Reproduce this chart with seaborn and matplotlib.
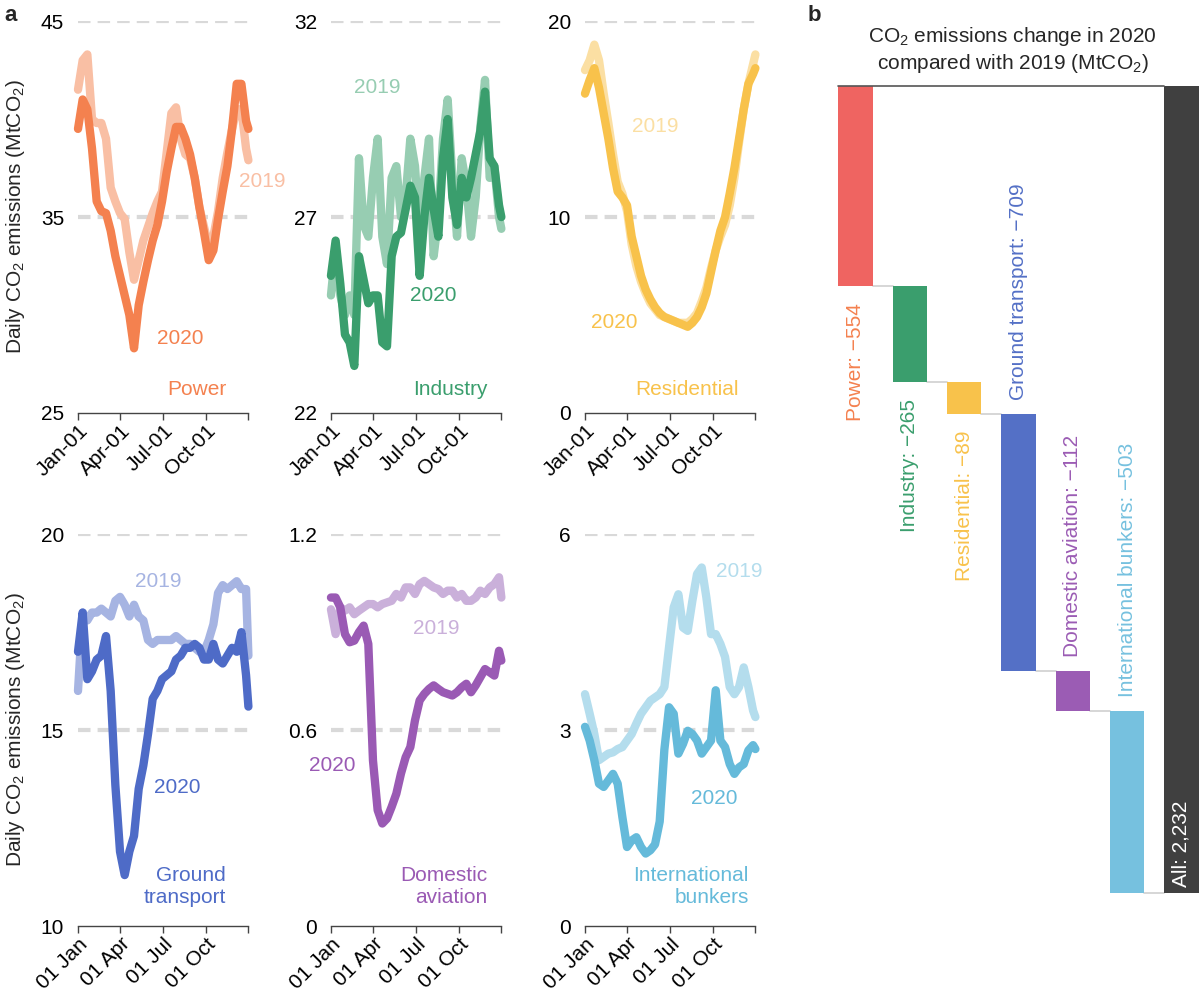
import pandas as pd
import numpy as np
import matplotlib.pyplot as plt
import matplotlib.dates as mdates
import seaborn as sns

DAY_OFFSETS = list(range(0, 361, 10)) + [365]

power_2019 = [41.5, 43.0, 43.3, 40.0, 39.8, 39.8, 39.0, 36.5, 35.8, 35.2, 34.9, 33.2, 31.8, 32.8, 33.8, 34.5, 35.2, 35.8, 36.3,
              38.3, 40.3, 40.6, 39.0, 38.2, 38.0, 37.0, 35.5, 34.5, 33.5, 34.0, 35.3, 37.0, 38.3, 39.5, 40.5, 40.5, 38.5, 37.9]
power_2020 = [39.5, 41.0, 40.5, 38.5, 35.8, 35.3, 35.2, 34.3, 33.0, 32.0, 31.0, 30.0, 28.3, 30.5, 31.7, 32.8, 33.8, 34.6, 35.8,
              37.3, 38.5, 39.6, 39.6, 39.0, 38.2, 37.0, 35.5, 34.2, 32.8, 33.3, 34.9, 36.3, 37.6, 39.5, 41.8, 41.8, 39.9, 39.5]

industry_2019 = [25.0, 26.2, 25.0, 24.5, 25.0, 24.5, 28.5, 26.8, 26.5, 28.0, 29.0, 26.5, 25.8, 28.0, 28.3, 27.0, 27.5, 29.0, 28.3,
                 26.5, 28.0, 29.0, 26.0, 27.0, 29.0, 30.0, 28.0, 26.5, 28.5, 27.8, 26.5, 27.5, 29.3, 30.5, 28.0, 28.3, 27.0, 26.7]
industry_2020 = [25.5, 26.4, 25.3, 24.0, 23.8, 23.2, 26.0, 25.4, 24.8, 25.0, 25.0, 23.8, 23.7, 26.0, 26.5, 26.6, 27.2, 27.8, 27.5,
                 25.5, 27.0, 28.0, 27.2, 26.5, 28.5, 29.5, 27.5, 26.8, 28.0, 27.5, 28.0, 28.6, 29.2, 30.2, 28.5, 28.3, 27.3, 27.0]

residential_2019 = [17.5, 18.0, 18.8, 18.0, 16.3, 14.8, 13.2, 11.8, 11.2, 10.3, 8.6, 7.5, 6.7, 6.1, 5.6, 5.3, 5.0, 4.9, 4.8,
                    4.7, 4.6, 4.6, 4.6, 4.8, 5.1, 5.7, 6.4, 7.4, 8.3, 9.0, 9.6, 10.6, 12.0, 13.8, 15.5, 16.8, 17.8, 18.3]
residential_2020 = [16.3, 17.0, 17.6, 16.6, 15.3, 14.0, 12.5, 11.3, 11.0, 10.6, 9.0, 8.0, 7.0, 6.3, 5.8, 5.4, 5.1, 4.9, 4.8,
                    4.7, 4.6, 4.5, 4.4, 4.6, 4.9, 5.4, 6.1, 7.2, 8.3, 9.3, 10.0, 11.2, 12.5, 14.0, 15.5, 16.8, 17.3, 17.6]

ground_2019 = [16.0, 18.0, 17.8, 18.0, 18.0, 18.1, 18.0, 17.9, 18.3, 18.4, 18.2, 17.9, 18.2, 17.9, 17.8, 17.3, 17.2, 17.3, 17.3,
               17.3, 17.3, 17.4, 17.3, 17.2, 17.2, 17.1, 17.0, 17.0, 17.3, 17.7, 18.5, 18.7, 18.6, 18.7, 18.8, 18.6, 18.6, 16.9]
ground_2020 = [17.0, 18.0, 16.3, 16.5, 16.8, 16.9, 17.4, 16.0, 13.6, 11.9, 11.3, 11.9, 12.3, 13.5, 14.1, 14.9, 15.8, 16.0, 16.3,
               16.4, 16.5, 16.8, 16.9, 17.1, 17.1, 17.2, 17.1, 16.8, 16.8, 17.2, 16.8, 16.7, 16.9, 17.1, 17.0, 17.5, 16.4, 15.6]

domestic_2019 = [0.97, 0.894, 0.976, 0.966, 0.976, 0.955, 0.966, 0.976, 0.986, 0.986, 0.976, 0.986, 0.991, 0.996, 1.017, 1.006,
                 1.037, 1.037, 1.017, 1.047, 1.057, 1.047, 1.037, 1.032, 1.017, 1.027, 1.027, 1.006, 1.017, 0.996, 0.996,
                 1.006, 1.027, 1.017, 1.037, 1.047, 1.068, 1.006]
domestic_2020 = [1.006, 1.006, 0.976, 0.894, 0.869, 0.874, 0.90, 0.92, 0.864, 0.507, 0.355, 0.314, 0.329, 0.365, 0.405, 0.467,
                 0.517, 0.548, 0.630, 0.691, 0.711, 0.726, 0.737, 0.726, 0.716, 0.711, 0.706, 0.716, 0.731, 0.742, 0.716,
                 0.737, 0.762, 0.787, 0.777, 0.767, 0.843, 0.813]

bunkers_2019 = [3.55, 3.25, 2.94, 2.54, 2.59, 2.64, 2.66, 2.71, 2.74, 2.84, 2.94, 3.10, 3.25, 3.35, 3.45, 3.50, 3.55, 3.66, 4.27,
                4.88, 5.08, 4.57, 4.52, 4.98, 5.39, 5.49, 5.03, 4.47, 4.47, 4.32, 4.12, 3.66, 3.55, 3.66, 3.96, 3.66, 3.30, 3.20]
bunkers_2020 = [3.05, 2.84, 2.54, 2.18, 2.13, 2.23, 2.33, 2.18, 1.67, 1.21, 1.31, 1.36, 1.21, 1.11, 1.16, 1.25, 1.60, 2.70, 3.35,
                3.25, 2.64, 2.79, 2.99, 2.94, 2.84, 2.64, 2.74, 2.84, 3.61, 2.84, 2.74, 2.48, 2.33, 2.43, 2.48, 2.69, 2.77, 2.71]

top_xlabels = ['Jan-01', 'Apr-01', 'Jul-01', 'Oct-01', '']
bottom_xlabels = ['01 Jan', '01 Apr', '01 Jul', '01 Oct', '']
tick_dates = ['2020-01-01', '2020-04-01', '2020-07-01', '2020-10-01', '2020-12-31']

# waterfall data (MtCO2)
sectors = ['Power', 'Industry', 'Residential', 'Ground transport', 'Domestic aviation', 'International bunkers']
changes = [-554, -265, -89, -709, -112, -503]
total_label = 'All: 2,232'

sns.set_theme(style='white')
plt.rcParams['font.family'] = ['Liberation Sans', 'DejaVu Sans']
plt.rcParams['mathtext.default'] = 'regular'

CO2 = 'CO$_\\mathregular{2}$'
YLAB = 'Daily ' + CO2 + ' emissions (Mt' + CO2 + ')'
FS = 15

panels = [
    dict(v19=power_2019, v20=power_2020, light='#F9BFA4', dark='#F4814F',
         yticks=[25, 35, 45], ylabels=['25', '35', '45'], xlabels=top_xlabels,
         texts=[('2019', 1.08, 0.59, 'light', 'center'), ('2020', 0.60, 0.19, 'dark', 'center'),
                ('Power', 0.70, 0.06, 'dark', 'center')]),
    dict(v19=industry_2019, v20=industry_2020, light='#97CDB2', dark='#3A9E6D',
         yticks=[22, 27, 32], ylabels=['22', '27', '32'], xlabels=top_xlabels,
         texts=[('2019', 0.27, 0.83, 'light', 'center'), ('2020', 0.60, 0.30, 'dark', 'center'),
                ('Industry', 0.70, 0.06, 'dark', 'center')]),
    dict(v19=residential_2019, v20=residential_2020, light='#FBDFA3', dark='#F8C24B',
         yticks=[0, 10, 20], ylabels=['0', '10', '20'], xlabels=top_xlabels,
         texts=[('2019', 0.41, 0.73, 'light', 'center'), ('2020', 0.17, 0.23, 'dark', 'center'),
                ('Residential', 0.60, 0.06, 'dark', 'center')]),
    dict(v19=ground_2019, v20=ground_2020, light='#A6B4E2', dark='#4E6BC7',
         yticks=[10, 15, 20], ylabels=['10', '15', '20'], xlabels=bottom_xlabels,
         texts=[('2019', 0.47, 0.88, 'light', 'center'), ('2020', 0.58, 0.354, 'dark', 'center'),
                ('Ground\ntransport', 0.87, 0.10, 'dark', 'right')]),
    dict(v19=domestic_2019, v20=domestic_2020, light='#CAB0DA', dark='#9A5AB4',
         yticks=[0, 0.6, 1.2], ylabels=['0', '0.6', '1.2'], xlabels=bottom_xlabels,
         texts=[('2019', 0.62, 0.76, 'light', 'center'), ('2020', 0.01, 0.41, 'dark', 'center'),
                ('Domestic\naviation', 0.92, 0.10, 'dark', 'right')]),
    dict(v19=bunkers_2019, v20=bunkers_2020, light='#B4DDED', dark='#65BADA',
         yticks=[0, 3, 6], ylabels=['0', '3', '6'], xlabels=bottom_xlabels,
         texts=[('2019', 0.905, 0.905, 'light', 'center'), ('2020', 0.76, 0.326, 'dark', 'center'),
                ('International\nbunkers', 0.96, 0.10, 'dark', 'right')]),
]

fig = plt.figure(figsize=(12, 9.92), dpi=100)

col_left = [0.065, 0.2758, 0.4875]
col_width = 0.1420
row_bottom = [0.5837, 0.0665]
row_height = 0.3950

dates = pd.Timestamp('2020-01-01') + pd.to_timedelta(DAY_OFFSETS, unit='D')
tick_nums = mdates.date2num(pd.to_datetime(tick_dates))

for i, p in enumerate(panels):
    r, c = divmod(i, 3)
    ax = fig.add_axes([col_left[c], row_bottom[r], col_width, row_height])
    n = len(dates)
    df = pd.DataFrame({'date': list(dates) * 2,
                       'value': p['v19'] + p['v20'],
                       'year': ['2019'] * n + ['2020'] * n})
    for y in p['yticks'][1:]:
        ax.axhline(y, color='#D9D9D9', lw=3, dashes=(3, 1.7), zorder=0)
    sns.lineplot(data=df, x='date', y='value', hue='year', palette=[p['light'], p['dark']],
                 lw=6, legend=False, ax=ax, clip_on=False, solid_capstyle='round',
                 solid_joinstyle='round')
    ax.set_xlim(pd.Timestamp('2020-01-01'), pd.Timestamp('2020-12-31'))
    ax.set_ylim(p['yticks'][0], p['yticks'][-1])
    ax.set_yticks(p['yticks'])
    ax.set_yticklabels(p['ylabels'])
    ax.set_xticks(tick_nums)
    ax.set_xticklabels(p['xlabels'], rotation=45, ha='right', rotation_mode='anchor')
    ax.set_xlabel('')
    ax.set_ylabel(YLAB if c == 0 else '', fontsize=FS)
    ax.yaxis.set_label_coords(-0.30, 0.5)
    sns.despine(ax=ax, left=True)
    ax.spines['bottom'].set_color('#444444')
    ax.spines['bottom'].set_linewidth(1)
    ax.tick_params(axis='y', length=0, pad=10, labelsize=FS, labelcolor='black')
    ax.tick_params(axis='x', length=5, width=1, color='#444444', direction='out',
                   labelsize=FS, pad=1, bottom=True, labelcolor='black')
    for txt, fx, fy, tone, ha in p['texts']:
        ax.text(fx, fy, txt, transform=ax.transAxes, color=p[tone], fontsize=FS,
                ha=ha, va='center', multialignment=ha)

# ---- panel b: waterfall ----
axw = fig.add_axes([0.688, 0.0998, 0.3115, 0.8135])
bar_colors = ['#EF6461', '#3A9E6D', '#F8C24B', '#5470C6', '#9B5CB4', '#76C1DF']
label_colors = ['#F4814F', '#3A9E6D', '#F8C24B', '#5470C6', '#9B5CB4', '#76C1DF']
label_below = [True, True, True, False, False, False]
bw = 0.63

ends = np.cumsum(changes)
starts = np.concatenate([[0], ends[:-1]])
xs = np.arange(len(sectors))
total = ends[-1]
x_all = len(sectors)

axw.bar(xs, changes, bottom=starts, width=bw, color=bar_colors, linewidth=0)
axw.bar([x_all], [total], bottom=0, width=bw, color='#404040', linewidth=0)

for i in range(len(sectors)):
    axw.plot([xs[i] + bw / 2, xs[i] + 1 - bw / 2], [ends[i], ends[i]], color='#CFCFCF', lw=1.2,
             clip_on=False, zorder=0)
axw.plot([xs[0] - bw / 2, x_all - bw / 2], [0, 0], color='#555555', lw=1.2, clip_on=False)

for i, name in enumerate(sectors):
    lab = f'{name}: \u2212{abs(changes[i])}'
    if label_below[i]:
        axw.annotate(lab, xy=(xs[i], ends[i]), xytext=(0, -12), textcoords='offset points',
                     rotation=90, ha='center', va='top', color=label_colors[i], fontsize=FS)
    else:
        axw.annotate(lab, xy=(xs[i], starts[i]), xytext=(0, 10), textcoords='offset points',
                     rotation=90, ha='center', va='bottom', color=label_colors[i], fontsize=FS)
axw.annotate(total_label, xy=(x_all, total), xytext=(0, 4), textcoords='offset points',
             rotation=90, ha='center', va='bottom', color='white', fontsize=FS)

axw.set_xlim(-0.55, 6.33)
axw.set_ylim(total, 0)
axw.axis('off')
axw.set_title(CO2 + ' emissions change in 2020\ncompared with 2019 (Mt' + CO2 + ')',
              fontsize=FS, pad=12, linespacing=1.25)

fig.text(0.004, 0.995, 'a', fontsize=16, fontweight='bold', va='top')
fig.text(0.673, 0.995, 'b', fontsize=16, fontweight='bold', va='top')

fig.savefig('out.png', dpi=100)
